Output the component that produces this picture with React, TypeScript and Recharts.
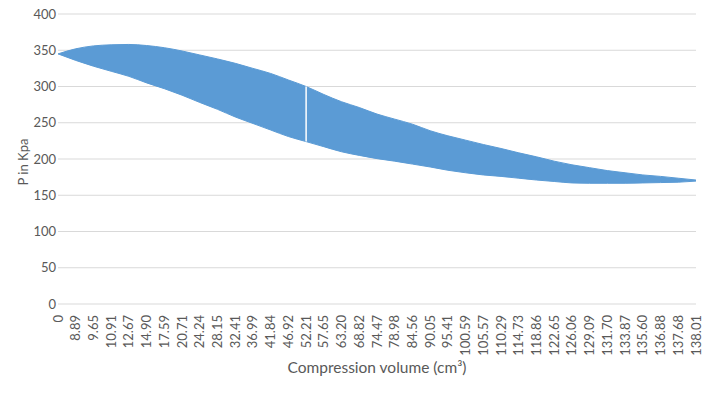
import React from 'react';
import { ComposedChart, Area, XAxis, YAxis, CartesianGrid, ReferenceLine } from 'recharts';

const categories = ['0','8.89','9.65','10.91','12.67','14.90','17.59','20.71','24.24','28.15','32.41','36.99','41.84','46.92','52.21','57.65','63.20','68.82','74.47','78.98','84.56','90.05','95.41','100.59','105.57','110.29','114.73','118.86','122.65','126.06','129.09','131.70','133.87','135.60','136.88','137.68','138.01'];
const upperP = [345,352,356,357.5,358,356.5,353.5,349,343.5,338,332,325,318,309,300,289,279,271,262,255,248,239,232,226,220,214.5,208.5,203,197,192,188,184,181,178,176,173.5,171];
const lowerP = [345,336,328,321,314,305,297,288,278,268.5,258,249,240,231,224,217,210,205,200.5,197,193,189,184.5,181,178,176,173.5,171,169,167,166.5,166.5,166.5,167,167.5,168,169.5];
const yTicks = [0,50,100,150,200,250,300,350,400];
const gapIndex = 14;

const data = categories.map((c, i) => ({ v: c, band: [lowerP[i], upperP[i]] }));

const FONT = 'Lato, "Open Sans", sans-serif';
const GREY = '#595959';

const XTick = (props: any) => {
  const { x, y, payload } = props;
  return (
    <text x={x} y={y + 11} transform={`rotate(-90, ${x}, ${y + 11})`} textAnchor="end" dy="0.35em"
      fill={GREY} fontSize={13} fontFamily={FONT}>{payload.value}</text>
  );
};

export default function App() {
  return (
    <div style={{ position: 'absolute', left: 0, top: 0, background: '#fff' }}>
      <ComposedChart width={707} height={393} data={data} margin={{ top: 14, right: 11, bottom: 0, left: 0 }}>
        <CartesianGrid vertical={false} stroke="#d9d9d9" strokeWidth={1} />
        <XAxis dataKey="v" type="category" interval={0} axisLine={false} tickLine={false} tickSize={0} tickMargin={0}
          height={89} tick={<XTick />} padding={{ left: 0, right: 0 }}
          label={{ value: 'Compression volume (cm³)', position: 'insideBottom', offset: 20, fill: GREY, fontSize: 15.5, fontFamily: FONT }} />
        <YAxis domain={[0, 400]} ticks={yTicks} width={58} axisLine={false} tickLine={false} tickSize={0} tickMargin={2}
          tick={{ fill: GREY, fontSize: 13, fontFamily: FONT }}
          label={{ content: () => (
            <text x={23} y={162} transform="rotate(-90, 23, 162)" textAnchor="middle" dy="0.35em" fill={GREY} fontSize={13} fontFamily={FONT}>P in Kpa</text>
          ) }} />
        <Area type="monotone" dataKey="band" stroke="#5b9bd5" strokeWidth={1} fill="#5b9bd5" fillOpacity={1} isAnimationActive={false} dot={false} activeDot={false} />
        <ReferenceLine segment={[{ x: categories[gapIndex], y: lowerP[gapIndex] }, { x: categories[gapIndex], y: upperP[gapIndex] }]}
          stroke="#ffffff" strokeWidth={1.5} />
      </ComposedChart>
    </div>
  );
}
